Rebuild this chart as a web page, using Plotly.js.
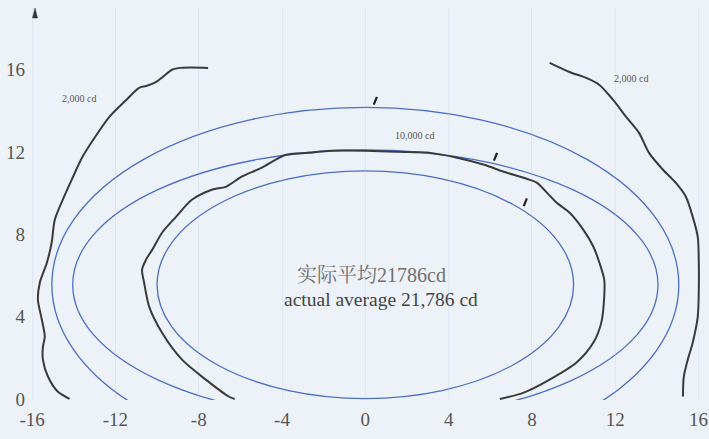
<!DOCTYPE html>
<html>
<head>
<meta charset="utf-8">
<script src="https://cdn.plot.ly/plotly-3.0.1.min.js"></script>
<style>html,body{margin:0;padding:0;background:#edf2f8;}#chart{width:709px;height:439px;}</style>
</head>
<body>
<div id="chart"></div>
<script>
// ---- data ----
const xTickVals = [-16, -12, -8, -4, 0, 4, 8, 12, 16];
const yTickVals = [0, 4, 8, 12, 16];

// 10,000 cd measured contour (black, inner)
const inner10kX = [-6.27, -6.56, -7.66, -8.80, -9.76, -10.38, -10.62, -10.72, -10.53, -10.23, -9.76, -9.09, -8.33, -7.37, -6.70, -5.94, -4.99, -4.32, -3.84, -2.74, -1.65, -0.02, 1.55, 3.12, 4.41, 5.70, 6.65, 7.90, 8.23, 9.19, 9.81, 10.47, 10.95, 11.24, 11.47, 11.47, 11.33, 10.95, 10.14, 8.85, 7.61, 6.46];
const inner10kY = [0.00, 0.12, 0.94, 1.91, 3.22, 4.49, 5.65, 6.28, 6.77, 7.25, 8.08, 8.85, 9.68, 10.17, 10.31, 10.80, 11.23, 11.62, 11.86, 11.96, 12.06, 12.06, 12.01, 11.96, 11.72, 11.38, 11.04, 10.65, 10.51, 9.53, 9.05, 8.22, 7.40, 6.62, 5.80, 4.97, 3.71, 2.74, 1.77, 0.94, 0.31, 0.00];

// 2,000 cd measured contour, left branch
const left2kX = [-7.55, -8.85, -9.28, -9.66, -10.04, -10.52, -10.86, -11.48, -12.29, -12.91, -13.58, -14.10, -14.53, -14.91, -15.06, -15.29, -15.63, -15.72, -15.53, -15.39, -15.48, -15.48, -15.24, -14.77, -14.20];
const left2kY = [16.09, 16.09, 16.00, 15.70, 15.41, 15.21, 15.12, 14.53, 13.71, 12.83, 11.77, 10.65, 9.68, 8.71, 7.59, 6.62, 5.65, 4.83, 3.85, 3.03, 2.54, 1.91, 1.09, 0.36, 0.00];

// 2,000 cd measured contour, right branch
const right2kX = [8.85, 9.80, 10.61, 11.24, 11.90, 12.52, 13.14, 13.62, 14.29, 14.91, 15.39, 15.72, 15.96, 16.01, 16.01, 15.96, 15.72, 15.48, 15.29, 15.25];
const right2kY = [16.33, 15.89, 15.60, 15.26, 14.53, 13.71, 12.93, 11.96, 11.14, 10.50, 9.83, 8.85, 7.88, 6.62, 5.31, 4.00, 2.74, 1.91, 1.09, 0.12];

// blue reference ellipses (semi-axes), common centre
const ellipseA = [15.05, 14.05, 10.0];
const ellipseB = [8.62, 6.55, 5.53];
const ellipseCX = 0;
const ellipseCY = 5.55;

// small tick strokes on the ellipses
const strokeX = [0.48, 6.25, 7.68];
const strokeY = [14.49, 11.77, 9.56];

// labels
const labelText = ['2,000 cd', '2,000 cd', '10,000 cd'];
const labelX = [-13.76, 12.76, 2.36];
const labelY = [14.58, 15.55, 12.78];
const centreTextCN = '实际平均21786cd';
const centreTextEN = 'actual average 21,786 cd';

// ---- figure ----
const serif = 'Liberation Serif, Times New Roman, serif';
const blackLine = {color: '#3a3a3a', width: 2, shape: 'spline', smoothing: 0.8};

const traces = [
  {x: left2kX, y: left2kY, mode: 'lines', line: blackLine, hoverinfo: 'skip'},
  {x: right2kX, y: right2kY, mode: 'lines', line: blackLine, hoverinfo: 'skip'},
  {x: inner10kX, y: inner10kY, mode: 'lines', line: blackLine, hoverinfo: 'skip'},
  {x: strokeX, y: strokeY, mode: 'markers', hoverinfo: 'skip',
   marker: {symbol: 'line-ns', size: 6, angle: 22, line: {color: '#222', width: 2.2}}}
];

const shapes = ellipseA.map((a, i) => ({
  type: 'circle', xref: 'x', yref: 'y', layer: 'below',
  x0: ellipseCX - a, x1: ellipseCX + a,
  y0: ellipseCY - ellipseB[i], y1: ellipseCY + ellipseB[i],
  line: {color: '#4a6fc9', width: 1.3}
}));
// y-axis arrow head
shapes.push({
  type: 'path', xref: 'paper', yref: 'paper', xsizemode: 'pixel', ysizemode: 'pixel',
  xanchor: 0.0074, yanchor: 1, path: 'M-2.5,-10 L0,0 L2.5,-10 Z',
  fillcolor: '#333', line: {color: '#333', width: 0.5}
});

const annotations = labelText.map((t, i) => ({
  x: labelX[i], y: labelY[i], xref: 'x', yref: 'y', text: t, showarrow: false,
  font: {family: serif, size: 10, color: '#555'}
}));
annotations.push({x: 0.3, y: 6.04, xref: 'x', yref: 'y', text: centreTextCN, showarrow: false,
  font: {family: 'Liberation Serif, Noto Serif CJK SC, Noto Sans CJK SC, serif', size: 20, color: '#707070'}});
annotations.push({x: 0.74, y: 4.82, xref: 'x', yref: 'y', text: centreTextEN, showarrow: false,
  font: {family: serif, size: 19.5, color: '#444'}});

const gridColor = 'rgba(185,200,222,0.25)';
const layout = {
  width: 709, height: 439,
  margin: {l: 30, r: 0, t: 8, b: 39, pad: 0},
  paper_bgcolor: '#edf2f8', plot_bgcolor: '#edf2f8',
  showlegend: false,
  xaxis: {range: [-16.1, 16.5], tickvals: xTickVals, ticktext: xTickVals.map(String),
    showline: false, zeroline: false, showgrid: true, gridcolor: gridColor, gridwidth: 1,
    ticks: '', ticklabelstandoff: 6, ticklabeloverflow: 'allow',
    tickfont: {family: serif, size: 19, color: '#555'}},
  yaxis: {range: [-0.05, 19.0], tickvals: yTickVals, ticktext: yTickVals.map(String),
    showline: false, zeroline: false, showgrid: false,
    ticks: '', ticklabelstandoff: 4, ticklabeloverflow: 'allow',
    tickfont: {family: serif, size: 19, color: '#555'}},
  shapes: shapes,
  annotations: annotations
};

Plotly.newPlot('chart', traces, layout, {displayModeBar: false, staticPlot: true});
</script>
</body>
</html>
